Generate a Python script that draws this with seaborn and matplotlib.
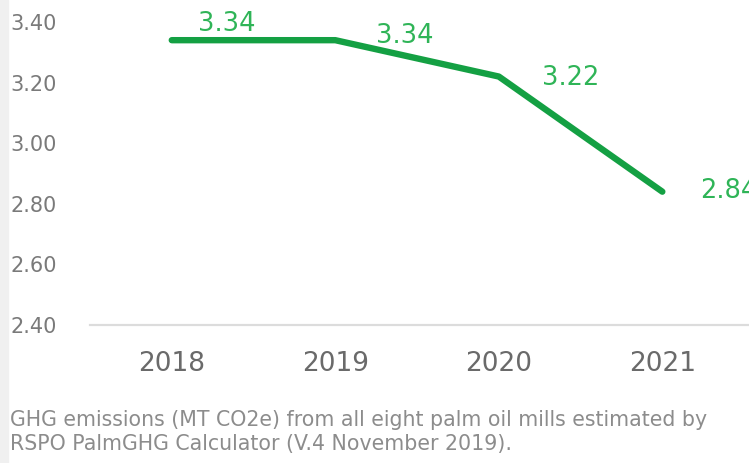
import matplotlib
matplotlib.use("Agg")
import matplotlib.pyplot as plt
import seaborn as sns
import pandas as pd
from matplotlib.patches import Rectangle

# data
years = ["2018", "2019", "2020", "2021"]
ghg = [3.34, 3.34, 3.22, 2.84]
ytick_vals = [2.40, 2.60, 2.80, 3.00, 3.20, 3.40]
caption = ("GHG emissions (MT CO2e) from all eight palm oil mills estimated by\n"
           "RSPO PalmGHG Calculator (V.4 November 2019).")

# label offsets in pixels (left edge of text relative to point)
label_offsets = [(26, 16), (41, 4), (43, -1), (38, 1)]

sns.set_theme(style="white")
plt.rcParams["font.family"] = ["DejaVu Sans"]

df = pd.DataFrame({"year": years, "ghg": ghg})

fig = plt.figure(figsize=(7.49, 4.63), dpi=100)
fig.patches.append(Rectangle((0, 0), 8 / 749, 1, transform=fig.transFigure,
                             color="#f0f0f0", zorder=0))
ax = fig.add_axes([90 / 749, 1 - 325 / 463, 659 / 749, 303 / 463])

line_green = "#14a043"
text_green = "#2fb457"
sns.lineplot(data=df, x="year", y="ghg", ax=ax, color=line_green,
             linewidth=4.6, solid_capstyle="round", solid_joinstyle="round")

for i, (v, off) in enumerate(zip(ghg, label_offsets)):
    ax.annotate(f"{v:.2f}", xy=(i, v), xytext=off, textcoords="offset pixels",
                ha="left", va="center", fontsize=18.5, color=text_green,
                annotation_clip=False)

ax.set_xlim(-0.5, 3.53)
ax.set_ylim(2.40, 3.40)
ax.set_yticks(ytick_vals)
ax.set_yticklabels([f"{t:.2f}" for t in ytick_vals])
ax.set_xlabel("")
ax.set_ylabel("")

for s in ["top", "right", "left"]:
    ax.spines[s].set_visible(False)
ax.spines["bottom"].set_color("#dcdcdc")
ax.spines["bottom"].set_linewidth(1.6)

ax.tick_params(axis="y", length=0, pad=57, labelsize=15, labelcolor="#7a7a7a")
for lab in ax.get_yticklabels():
    lab.set_horizontalalignment("left")
ax.tick_params(axis="x", length=0, pad=19, labelsize=19, labelcolor="#6a6a6a")

fig.text(10 / 749, 1 - 432 / 463, caption, fontsize=14.8, color="#8c8c8c",
         ha="left", va="center", linespacing=1.2)

fig.savefig("out.png", dpi=100)
